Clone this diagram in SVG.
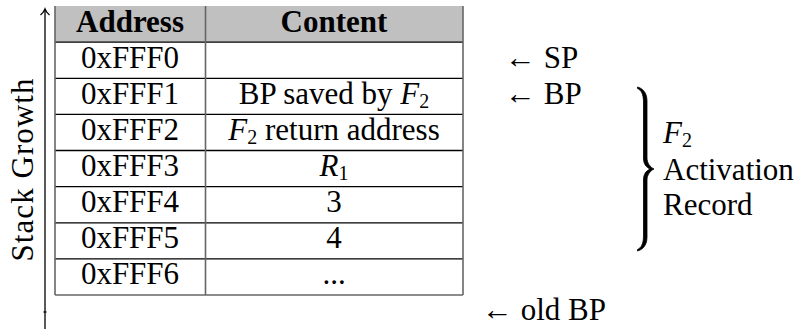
<svg xmlns="http://www.w3.org/2000/svg" width="798" height="329" viewBox="0 0 798 329">
<style>
text{font-size:31px;fill:#000}
.c{text-anchor:middle}
.b{font-weight:bold}
.i{font-style:italic}
.s{font-size:20px}
.hl{stroke:#000;stroke-width:1.3}
.vl{stroke:#666;stroke-width:1.6}
.ln{stroke:#000;stroke-width:1.3;fill:none}
</style>
<rect width="798" height="329" fill="#fff"/>
<g font-family="Liberation Serif, serif">
<g id="table">
<rect x="55" y="6" width="408" height="36.1" fill="#c0c0c0"/>
<line class="hl" x1="55" y1="42.1" x2="463" y2="42.1"/>
<line class="hl" x1="55" y1="78.3" x2="463" y2="78.3"/>
<line class="hl" x1="55" y1="114.4" x2="463" y2="114.4"/>
<line class="hl" x1="55" y1="150.5" x2="463" y2="150.5"/>
<line class="hl" x1="55" y1="186.6" x2="463" y2="186.6"/>
<line class="hl" x1="55" y1="222.8" x2="463" y2="222.8"/>
<line class="hl" x1="55" y1="258.9" x2="463" y2="258.9"/>
<line class="vl" x1="55" y1="6" x2="55" y2="295"/>
<line class="vl" x1="205.5" y1="6" x2="205.5" y2="295"/>
<line class="vl" x1="463" y1="6" x2="463" y2="295"/>
<line class="vl" x1="55" y1="295" x2="463" y2="295"/>
<text class="c b" x="130" y="32">Address</text>
<text class="c b" x="334" y="32">Content</text>
<text class="c" x="130" y="68">0xFFF0</text>
<text class="c" x="130" y="104">0xFFF1</text>
<text class="c" x="130" y="140">0xFFF2</text>
<text class="c" x="130" y="176">0xFFF3</text>
<text class="c" x="130" y="212">0xFFF4</text>
<text class="c" x="130" y="248">0xFFF5</text>
<text class="c" x="130" y="284">0xFFF6</text>
<text class="c" x="334" y="104">BP saved by <tspan class="i">F</tspan><tspan class="s" dy="4">2</tspan></text>
<text class="c" x="334" y="140"><tspan class="i">F</tspan><tspan class="s" dy="4">2</tspan><tspan dy="-4"> return address</tspan></text>
<text class="c" x="334" y="176"><tspan class="i">R</tspan><tspan class="s" dy="4">1</tspan></text>
<text class="c" x="334" y="212">3</text>
<text class="c" x="334" y="248">4</text>
<text class="c" x="334" y="284">...</text>
</g>
<g id="growth">
<line class="ln" x1="45" y1="9" x2="45" y2="329"/>
<path class="ln" d="M40.5,15 Q44,12 45,9 Q46,12 49.5,15"/>
<line class="ln" x1="43.5" y1="312" x2="46.5" y2="312"/>
<text class="c" transform="translate(33,170) rotate(-90)" textLength="183">Stack Growth</text>
</g>
<g id="pointers">
<text x="505" y="68">← SP</text>
<text x="505" y="104">← BP</text>
<text x="482" y="320">← old BP</text>
</g>
<g id="brace">
<path d="M637.5,87 C641,88 647,91 647,101 L647,158 C647,163 650,167 654,169 C650,171 647,175 647,180 L647,237 C647,247 641,250 637.5,251 L637.5,249.5 C641,248 643.5,244 643.5,236 L643.5,180 C643.5,174 646,171 650,169 C646,167 643.5,164 643.5,158 L643.5,102 C643.5,94 641,90 637.5,88.5 Z" fill="#000" stroke="#000" stroke-width="0.8" stroke-linejoin="round"/>
<text x="663" y="143"><tspan class="i">F</tspan><tspan class="s" dy="4">2</tspan></text>
<text x="663" y="180">Activation</text>
<text x="663" y="215">Record</text>
</g>
</g>
</svg>
